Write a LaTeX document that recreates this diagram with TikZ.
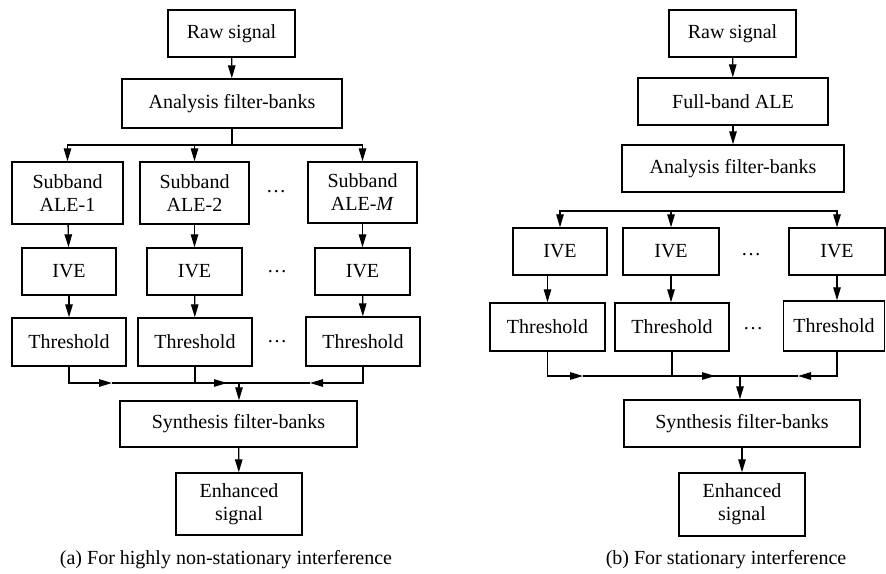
\documentclass[tikz,border=0pt]{standalone}
\usepackage{fontspec}
\setmainfont{Liberation Serif}
\usetikzlibrary{arrows.meta}
\tikzset{
  blk/.style={draw, line width=1.4pt, inner sep=0pt, align=center, font=\fontsize{20}{23}\selectfont},
  arr/.style={-{Triangle[length=13pt,width=7.5pt]}, line width=1.3pt},
  wire/.style={line width=1.3pt},
  txt/.style={font=\fontsize{20}{23}\selectfont},
  dots/.style={font=\fontsize{20}{23}\selectfont, anchor=base, inner sep=0pt}
}
\begin{document}
\begin{tikzpicture}[x=1pt,y=-1pt]
\useasboundingbox (0,0) rectangle (886,573);
% (a) left chart
\node[blk, minimum width=127, minimum height=47] (rawA) at (231.5,33.5) {Raw signal};
\node[blk, minimum width=220, minimum height=49] (anaA) at (232,103.5) {Analysis filter-banks};
\node[blk, minimum width=111, minimum height=62] (subA1) at (67.5,193) {Subband\\ALE-1};
\node[blk, minimum width=109, minimum height=62] (subA2) at (194.5,193) {Subband\\ALE-2};
\node[blk, minimum width=109, minimum height=61] (subAM) at (362.5,192.5) {Subband\\ALE-\textit{M}};
\node[blk, minimum width=94, minimum height=47] (iveA1) at (69,271.5) {IVE};
\node[blk, minimum width=95, minimum height=47] (iveA2) at (194.5,271.5) {IVE};
\node[blk, minimum width=95, minimum height=47] (iveA3) at (362.5,271.5) {IVE};
\node[blk, minimum width=114, minimum height=48] (thrA1) at (69,342) {Threshold};
\node[blk, minimum width=114, minimum height=48] (thrA2) at (195,342) {Threshold};
\node[blk, minimum width=114, minimum height=49] (thrA3) at (363,341.5) {Threshold};
\node[blk, minimum width=237, minimum height=46] (synA) at (238.5,424) {Synthesis filter-banks};
\node[blk, minimum width=126, minimum height=62] (enhA) at (239,504) {Enhanced\\signal};
\node[dots] (dotA1) at (276,192) {…};
\node[dots] (dotA2) at (277,272) {…};
\node[dots] (dotA3) at (277,342) {…};
\node[txt] (capA) at (226,560) {(a) For highly non-stationary interference};
\coordinate (bA) at (232,145);
\coordinate (pA1) at (112,383);
\coordinate (pA2) at (227,383);
\coordinate (pA3) at (310,383);
\coordinate (jA) at (239,383);
\draw[arr] (rawA) -- (anaA);
\draw[wire] (anaA) -- (bA);
\draw[arr] (bA) -| (subA1);
\draw[arr] (bA) -| (subA2);
\draw[arr] (bA) -| (subAM);
\draw[arr] (subA1) -- (iveA1);
\draw[arr] (subA2) -- (iveA2);
\draw[arr] (subAM) -- (iveA3);
\draw[arr] (iveA1) -- (thrA1);
\draw[arr] (iveA2) -- (thrA2);
\draw[arr] (iveA3) -- (thrA3);
\draw[arr] (thrA1.south) |- (pA1);
\draw[wire] (pA1) -- (jA);
\draw[arr] (thrA2.south) |- (pA2);
\draw[wire] (pA2) -- (jA);
\draw[arr] (thrA3.south) |- (pA3);
\draw[wire] (pA3) -- (jA);
\draw[arr] (jA) -- (jA |- synA.north);
\draw[arr] (synA) -- (enhA);
% (b) right chart
\node[blk, minimum width=127, minimum height=47] (rawB) at (732.5,33.5) {Raw signal};
\node[blk, minimum width=190, minimum height=47] (fullB) at (733,101.5) {Full-band ALE};
\node[blk, minimum width=222, minimum height=47] (anaB) at (733,168.5) {Analysis filter-banks};
\node[blk, minimum width=94, minimum height=47] (iveB1) at (560,251.5) {IVE};
\node[blk, minimum width=96, minimum height=47] (iveB2) at (671,251.5) {IVE};
\node[blk, minimum width=96, minimum height=47] (iveB3) at (837,251.5) {IVE};
\node[blk, minimum width=115, minimum height=48] (thrB1) at (547.5,327) {Threshold};
\node[blk, minimum width=114, minimum height=48] (thrB2) at (672,327) {Threshold};
\node[blk, minimum width=101, minimum height=50] (thrB3) at (834,326) {Threshold};
\node[blk, minimum width=236, minimum height=47] (synB) at (742,423.5) {Synthesis filter-banks};
\node[blk, minimum width=126, minimum height=63] (enhB) at (742,504.5) {Enhanced\\signal};
\node[dots] (dotB1) at (751,255) {…};
\node[dots] (dotB2) at (753,329) {…};
\node[txt] (capB) at (726,560) {(b) For stationary interference};
\coordinate (bB) at (733,211);
\coordinate (pB1) at (583,376);
\coordinate (pB2) at (715,376);
\coordinate (pB3) at (798,376);
\coordinate (jB) at (740,376);
\draw[arr] (rawB) -- (fullB);
\draw[arr] (fullB) -- (anaB);
\draw[arr] (bB) -| (iveB1);
\draw[arr] (bB) -| (iveB2);
\draw[arr] (bB) -| (iveB3);
\draw[arr] (iveB1.south -| thrB1.north) -- (thrB1.north);
\draw[arr] (iveB2) -- (iveB2 |- thrB2.north);
\draw[arr] (iveB3) -- (iveB3 |- thrB3.north);
\draw[arr] (thrB1.south) |- (pB1);
\draw[wire] (pB1) -- (jB);
\draw[arr] (thrB2.south) |- (pB2);
\draw[wire] (pB2) -- (jB);
\draw[arr] (thrB3.south -| iveB3) |- (pB3);
\draw[wire] (pB3) -- (jB);
\draw[arr] (jB) -- (jB |- synB.north);
\draw[arr] (synB) -- (enhB);
\end{tikzpicture}
\end{document}
